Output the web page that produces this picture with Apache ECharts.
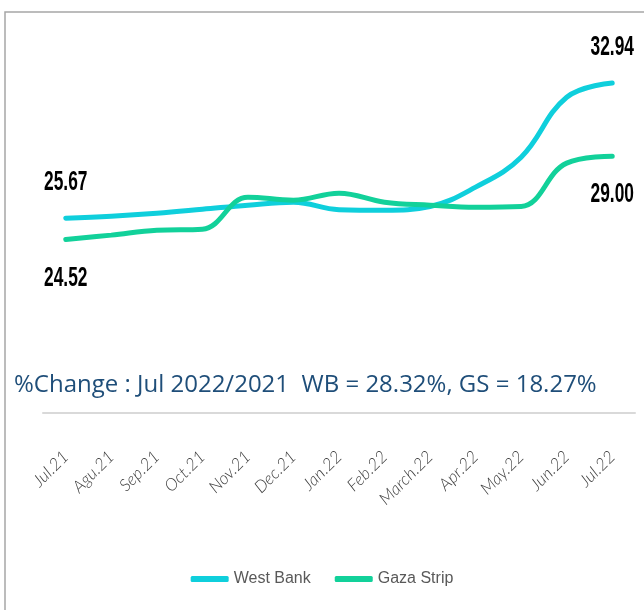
<!DOCTYPE html>
<html>
<head>
<meta charset="utf-8">
<script src="https://cdn.jsdelivr.net/npm/echarts@6/dist/echarts.min.js"></script>
<style>
  html, body { margin: 0; padding: 0; background: #fff; }
  #chart { width: 644px; height: 610px; }
</style>
</head>
<body>
<div id="chart"></div>
<script>
const months = ['Jul.21', 'Agu.21', 'Sep.21', 'Oct.21', 'Nov.21', 'Dec.21', 'Jan.22',
  'Feb.22', 'March.22', 'Apr.22', 'May.22', 'Jun.22', 'Jul.22']
const westBank = [25.67, 25.78, 25.94, 26.15, 26.37, 26.53, 26.13, 26.10, 26.30, 27.34, 28.95, 32.17, 32.94]
const gazaStrip = [24.52, 24.76, 25.02, 25.08, 26.80, 26.64, 27.01, 26.53, 26.37, 26.26, 26.30, 28.63, 29.00]
const note = '%Change : Jul 2022/2021  WB = 28.32%, GS = 18.27%'

const chart = echarts.init(document.getElementById('chart'))
const option = {
  animation: false,
  color: ['#0fcfdc', '#12d19a'],
  grid: { left: 43, right: 9, top: 26, height: 387 },
  xAxis: {
    type: 'category',
    data: months,
    boundaryGap: true,
    axisLine: { lineStyle: { color: '#d9d9d9', width: 2 } },
    axisTick: { show: false },
    axisLabel: {
      rotate: 45,
      margin: 41,
      padding: [20, 0, 0, 0],
      interval: 0,
      color: '#3f3f3f',
      fontStyle: 'italic',
      fontWeight: 300,
      fontFamily: 'Lato, sans-serif',
      fontSize: 17
    }
  },
  yAxis: {
    type: 'value',
    min: 15.2,
    max: 36,
    show: false
  },
  legend: {
    bottom: 18,
    left: 'center',
    icon: 'roundRect',
    itemWidth: 38,
    itemHeight: 6,
    itemGap: 24,
    textStyle: { color: '#595959', fontSize: 16, fontFamily: '"Liberation Sans", sans-serif' },
    data: ['West Bank', 'Gaza Strip']
  },
  graphic: [
    {
      type: 'rect',
      shape: { x: 5, y: 12, width: 800, height: 800 },
      style: { fill: 'none', stroke: '#a6a6a6', lineWidth: 1.5 },
      silent: true
    },
    {
      type: 'text',
      left: 14,
      top: 373,
      style: {
        text: note,
        fill: '#1f4e79',
        fontSize: 24,
        fontFamily: '"Open Sans", sans-serif'
      }
    }
  ],
  series: [
    {
      name: 'West Bank',
      type: 'line',
      smooth: 0.4,
      showSymbol: false,
      lineStyle: { width: 5, cap: 'round' },
      data: westBank
    },
    {
      name: 'Gaza Strip',
      type: 'line',
      smooth: 0.4,
      showSymbol: false,
      lineStyle: { width: 5, cap: 'round' },
      data: gazaStrip
    }
  ]
}
chart.setOption(option)

// value labels at first and last point, placed via the chart's own scales
// (narrow bold look: regular bold font squeezed horizontally)
const endLabels = []
const addLabel = (seriesIndex, arr, i, dy) => {
  const pt = chart.convertToPixel({ seriesIndex: seriesIndex }, [i, arr[i]])
  endLabels.push({
    type: 'text',
    x: pt[0],
    y: pt[1] + dy,
    scaleX: 0.62,
    silent: true,
    style: {
      text: arr[i].toFixed(2),
      align: 'center',
      verticalAlign: 'middle',
      fill: '#000',
      fontSize: 28,
      fontWeight: 'bold',
      fontFamily: '"Liberation Sans", sans-serif'
    }
  })
}
addLabel(0, westBank, 0, -36)
addLabel(1, gazaStrip, 0, 39)
addLabel(0, westBank, westBank.length - 1, -36)
addLabel(1, gazaStrip, gazaStrip.length - 1, 38)
chart.setOption({ graphic: option.graphic.concat(endLabels) })

window.addEventListener('resize', function () {
  chart.resize()
})
</script>
</body>
</html>
